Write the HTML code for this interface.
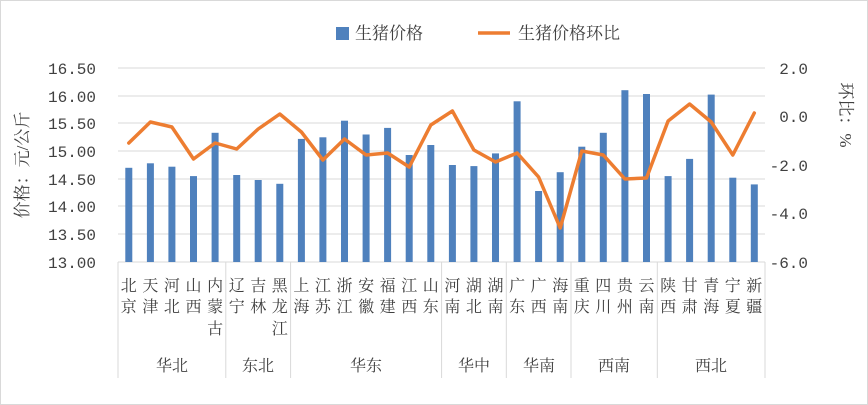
<!DOCTYPE html><html><head><meta charset="utf-8"><style>html,body{margin:0;padding:0;background:#fff}svg{display:block}</style></head><body>
<svg width="868" height="405" xmlns="http://www.w3.org/2000/svg" font-family="'Liberation Serif','Noto Serif CJK SC',serif" fill="#404040">
<rect x="0.5" y="0.5" width="867" height="404" fill="#fff" stroke="#d9d9d9"/>
<g stroke="#d9d9d9" stroke-width="1">
<line x1="118" x2="765" y1="68" y2="68"/><line x1="118" x2="765" y1="96" y2="96"/><line x1="118" x2="765" y1="123" y2="123"/><line x1="118" x2="765" y1="151" y2="151"/><line x1="118" x2="765" y1="179" y2="179"/><line x1="118" x2="765" y1="206" y2="206"/><line x1="118" x2="765" y1="234" y2="234"/>
<line x1="118" x2="765" y1="262" y2="262"/>
<line x1="118" x2="118" y1="262" y2="378"/><line x1="225.8" x2="225.8" y1="262" y2="378"/><line x1="290.6" x2="290.6" y1="262" y2="378"/><line x1="441.6" x2="441.6" y1="262" y2="378"/><line x1="506.3" x2="506.3" y1="262" y2="378"/><line x1="571" x2="571" y1="262" y2="378"/><line x1="657.3" x2="657.3" y1="262" y2="378"/><line x1="765" x2="765" y1="262" y2="378"/>
</g>
<g fill="#4f81bd">
<rect x="125.3" y="167.8" width="7" height="94.2"/><rect x="146.9" y="163.3" width="7" height="98.7"/><rect x="168.4" y="166.7" width="7" height="95.3"/><rect x="190" y="176.1" width="7" height="85.9"/><rect x="211.6" y="132.8" width="7" height="129.2"/>
<rect x="233.2" y="175" width="7" height="87"/><rect x="254.7" y="180" width="7" height="82"/><rect x="276.3" y="183.8" width="7" height="78.2"/>
<rect x="297.9" y="138.9" width="7" height="123.1"/><rect x="319.4" y="137.3" width="7" height="124.7"/><rect x="341" y="120.7" width="7" height="141.3"/><rect x="362.6" y="134.5" width="7" height="127.5"/><rect x="384.1" y="127.9" width="7" height="134.1"/><rect x="405.7" y="155" width="7" height="107"/><rect x="427.3" y="145" width="7" height="117"/>
<rect x="448.9" y="165" width="7" height="97"/><rect x="470.4" y="166.1" width="7" height="95.9"/><rect x="492" y="153.4" width="7" height="108.6"/>
<rect x="513.6" y="101.3" width="7" height="160.7"/><rect x="535.1" y="191" width="7" height="71"/><rect x="556.7" y="172.2" width="7" height="89.8"/>
<rect x="578.3" y="146.7" width="7" height="115.3"/><rect x="599.8" y="132.8" width="7" height="129.2"/><rect x="621.4" y="90.2" width="7" height="171.8"/><rect x="643" y="94" width="7" height="168"/>
<rect x="664.6" y="176.1" width="7" height="85.9"/><rect x="686.1" y="158.9" width="7" height="103.1"/><rect x="707.7" y="94.6" width="7" height="167.4"/><rect x="729.3" y="177.7" width="7" height="84.3"/><rect x="750.8" y="184.4" width="7" height="77.6"/>
</g>
<polyline fill="none" stroke="#ed7d31" stroke-width="3.5" stroke-linejoin="round" stroke-linecap="round" points="128.8,143 150.4,122 171.9,127 193.5,159 215.1,143 236.7,149 258.2,129 279.8,114 301.4,132 322.9,160 344.5,139 366.1,155 387.6,153 409.2,167 430.8,125 452.4,111 473.9,150 495.5,162 517.1,153 538.6,177 560.2,228 581.8,151 603.3,155 624.9,179 646.5,178 668.1,121 689.6,104 711.2,122 732.8,155 754.3,113"/>
<g font-size="16" text-anchor="end" font-family="'Liberation Mono',monospace">
<text x="96" y="74">16.50</text><text x="96" y="102">16.00</text><text x="96" y="129">15.50</text><text x="96" y="157">15.00</text><text x="96" y="185">14.50</text><text x="96" y="212">14.00</text><text x="96" y="240">13.50</text><text x="96" y="268">13.00</text>
</g>
<g font-size="16" text-anchor="end" font-family="'Liberation Mono',monospace">
<text x="808" y="74">2.0</text><text x="808" y="122">0.0</text><text x="808" y="171">-2.0</text><text x="808" y="219">-4.0</text><text x="808" y="268">-6.0</text>
</g>
<text font-size="17" text-anchor="middle" transform="translate(28,165) rotate(-90)">价格：元/公斤</text>
<text font-size="17" text-anchor="middle" transform="translate(840,115) rotate(90)">环比：%</text>
<rect x="336" y="27" width="13" height="13" fill="#4f81bd"/>
<text x="355" y="39" font-size="17">生猪价格</text>
<line x1="478" x2="510" y1="33" y2="33" stroke="#ed7d31" stroke-width="3.5"/>
<text x="518" y="39" font-size="17">生猪价格环比</text>
<g font-size="16" text-anchor="middle">
<text x="128.8" y="291">北</text><text x="128.8" y="312">京</text>
<text x="150.4" y="291">天</text><text x="150.4" y="312">津</text>
<text x="171.9" y="291">河</text><text x="171.9" y="312">北</text>
<text x="193.5" y="291">山</text><text x="193.5" y="312">西</text>
<text x="215.1" y="291">内</text><text x="215.1" y="312">蒙</text><text x="215.1" y="334">古</text>
<text x="236.7" y="291">辽</text><text x="236.7" y="312">宁</text>
<text x="258.2" y="291">吉</text><text x="258.2" y="312">林</text>
<text x="279.8" y="291">黑</text><text x="279.8" y="312">龙</text><text x="279.8" y="334">江</text>
<text x="301.4" y="291">上</text><text x="301.4" y="312">海</text>
<text x="322.9" y="291">江</text><text x="322.9" y="312">苏</text>
<text x="344.5" y="291">浙</text><text x="344.5" y="312">江</text>
<text x="366.1" y="291">安</text><text x="366.1" y="312">徽</text>
<text x="387.6" y="291">福</text><text x="387.6" y="312">建</text>
<text x="409.2" y="291">江</text><text x="409.2" y="312">西</text>
<text x="430.8" y="291">山</text><text x="430.8" y="312">东</text>
<text x="452.4" y="291">河</text><text x="452.4" y="312">南</text>
<text x="473.9" y="291">湖</text><text x="473.9" y="312">北</text>
<text x="495.5" y="291">湖</text><text x="495.5" y="312">南</text>
<text x="517.1" y="291">广</text><text x="517.1" y="312">东</text>
<text x="538.6" y="291">广</text><text x="538.6" y="312">西</text>
<text x="560.2" y="291">海</text><text x="560.2" y="312">南</text>
<text x="581.8" y="291">重</text><text x="581.8" y="312">庆</text>
<text x="603.3" y="291">四</text><text x="603.3" y="312">川</text>
<text x="624.9" y="291">贵</text><text x="624.9" y="312">州</text>
<text x="646.5" y="291">云</text><text x="646.5" y="312">南</text>
<text x="668.1" y="291">陕</text><text x="668.1" y="312">西</text>
<text x="689.6" y="291">甘</text><text x="689.6" y="312">肃</text>
<text x="711.2" y="291">青</text><text x="711.2" y="312">海</text>
<text x="732.8" y="291">宁</text><text x="732.8" y="312">夏</text>
<text x="754.3" y="291">新</text><text x="754.3" y="312">疆</text>
<text x="172" y="371">华北</text><text x="258" y="371">东北</text><text x="366" y="371">华东</text><text x="474" y="371">华中</text><text x="539" y="371">华南</text><text x="614" y="371">西南</text><text x="711" y="371">西北</text>
</g>
</svg>
</body></html>
